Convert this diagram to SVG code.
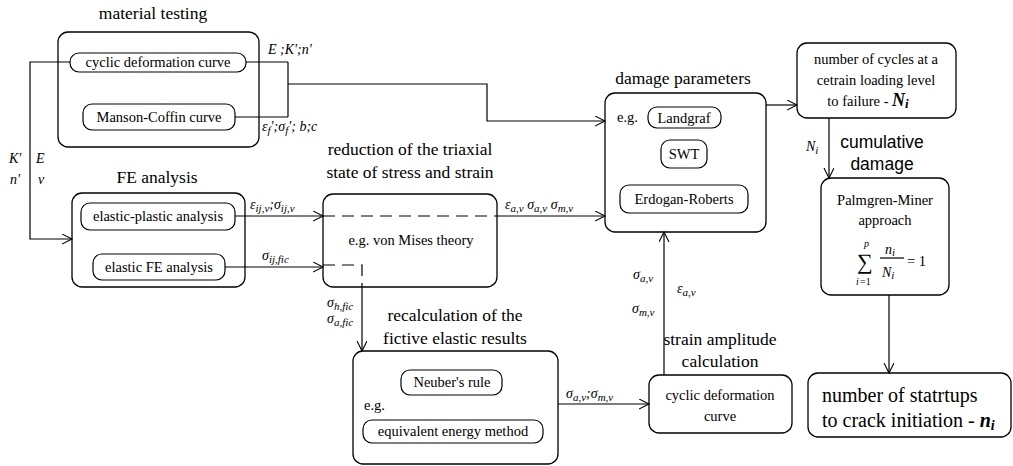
<svg xmlns="http://www.w3.org/2000/svg" width="1013" height="466" viewBox="0 0 1013 466">
<style>
text{font-family:'Liberation Serif','DejaVu Serif','Noto Serif',Tinos,'Times New Roman',Times,serif;fill:#000}
.t{font-size:17.5px}
.p{font-size:14.5px}
.m{font-size:14px;font-style:italic}
.b{font-size:11px}
.s{font-size:10px;font-style:italic}
.sans{font-family:'Liberation Sans',Arial,sans-serif}
.box{fill:#fff;stroke:#000;stroke-width:1.3}
.pill{fill:none;stroke:#000;stroke-width:1.2}
.ln{fill:none;stroke:#000;stroke-width:1.2}
.dash{fill:none;stroke:#000;stroke-width:1.2;stroke-dasharray:12,7}
</style>
<defs>
<marker id="ar" markerWidth="12" markerHeight="12" refX="10" refY="5" orient="auto" markerUnits="userSpaceOnUse">
<path d="M0,0 L10,5 L0,10" fill="none" stroke="#000" stroke-width="1.1"/>
</marker>
</defs>
<rect width="1013" height="466" fill="#fff"/>

<g id="material-testing">
<text class="t" x="153" y="19" text-anchor="middle">material testing</text>
<rect class="box" x="58" y="32" width="201" height="115" rx="10"/>
<rect class="pill" x="70" y="53" width="176" height="19" rx="9"/>
<text class="p" x="158" y="67" text-anchor="middle">cyclic deformation curve</text>
<rect class="pill" x="83" y="104" width="152" height="26" rx="9"/>
<text class="p" x="159" y="122" text-anchor="middle">Manson-Coffin curve</text>
</g>

<g id="fe-analysis">
<text class="t" x="157" y="183" text-anchor="middle">FE analysis</text>
<rect class="box" x="72" y="193" width="173" height="94" rx="10"/>
<rect class="pill" x="81" y="203" width="154" height="27" rx="9"/>
<text class="p" x="158" y="221" text-anchor="middle">elastic-plastic analysis</text>
<rect class="pill" x="93" y="254" width="132" height="26" rx="9"/>
<text class="p" x="159" y="272" text-anchor="middle">elastic FE analysis</text>
</g>

<g id="reduction">
<text class="t" x="410" y="155" text-anchor="middle">reduction of the triaxial</text>
<text class="t" x="410" y="178" text-anchor="middle">state of stress and strain</text>
<rect class="box" x="323" y="194" width="174" height="93" rx="10"/>
<text class="p" x="411" y="245" text-anchor="middle">e.g. von Mises theory</text>
</g>

<g id="damage-parameters">
<text class="t" x="683" y="84" text-anchor="middle">damage parameters</text>
<rect class="box" x="605" y="93" width="161" height="139" rx="10"/>
<text class="p" x="617" y="122">e.g.</text>
<rect class="pill" x="648" y="107" width="73" height="21" rx="9"/>
<text class="p" x="684" y="123" text-anchor="middle">Landgraf</text>
<rect class="pill" x="661" y="140" width="46" height="28" rx="9"/>
<text class="p" x="684" y="159" text-anchor="middle">SWT</text>
<rect class="pill" x="620" y="185" width="128" height="28" rx="9"/>
<text class="p" x="684" y="204" text-anchor="middle">Erdogan-Roberts</text>
</g>

<g id="cycles-to-failure">
<rect class="box" x="797" y="43" width="159" height="75" rx="10"/>
<text class="p" x="876" y="64" text-anchor="middle">number of cycles at a</text>
<text class="p" x="876" y="85" text-anchor="middle">cetrain loading level</text>
<text class="p" x="868" y="106" text-anchor="middle">to failure - <tspan font-size="18" font-weight="bold" font-style="italic">N<tspan font-size="13" dy="2">i</tspan></tspan></text>
</g>

<g id="cumulative-damage">
<text class="t sans" x="882" y="148" text-anchor="middle">cumulative</text>
<text class="t sans" x="882" y="170" text-anchor="middle">damage</text>
<rect class="box" x="821" y="178" width="128" height="117" rx="10"/>
<text class="p" x="885" y="205" text-anchor="middle">Palmgren-Miner</text>
<text class="p" x="885" y="225" text-anchor="middle">approach</text>
<text x="857" y="269" font-size="22">∑</text>
<text class="s" x="864" y="247">p</text>
<text class="s" x="856" y="285">i</text>
<text x="860" y="285" font-size="10">=1</text>
<text class="m" x="885" y="254">n<tspan class="b" dy="2">i</tspan></text>
<line class="ln" x1="880" y1="258" x2="904" y2="258" stroke-width="1"/>
<text class="m" x="882" y="277">N<tspan class="b" dy="2">i</tspan></text>
<text class="p" x="907" y="266">= 1</text>
</g>

<g id="crack-initiation">
<rect class="box" x="808" y="373" width="203" height="64" rx="10" stroke-width="2"/>
<text x="822" y="402" font-size="20">number of statrtups</text>
<text x="822" y="427" font-size="20">to crack initiation - <tspan font-weight="bold" font-style="italic">n<tspan font-size="14" dy="3">i</tspan></tspan></text>
</g>

<g id="recalculation">
<text class="t" x="455" y="321" text-anchor="middle">recalculation of the</text>
<text class="t" x="455" y="344" text-anchor="middle">fictive elastic results</text>
<rect class="box" x="353" y="351" width="205" height="113" rx="10"/>
<rect class="pill" x="401" y="370" width="101" height="25" rx="9"/>
<text class="p" x="452" y="387" text-anchor="middle">Neuber's rule</text>
<text class="p" x="364" y="410">e.g.</text>
<rect class="pill" x="363" y="420" width="180" height="23" rx="9"/>
<text class="p" x="453" y="436" text-anchor="middle">equivalent energy method</text>
</g>

<g id="strain-amplitude">
<text class="t" x="720" y="345" text-anchor="middle">strain amplitude</text>
<text class="t" x="720" y="367" text-anchor="middle">calculation</text>
<rect class="box" x="649" y="375" width="143" height="58" rx="10"/>
<text class="p" x="720" y="400" text-anchor="middle">cyclic deformation</text>
<text class="p" x="720" y="421" text-anchor="middle">curve</text>
</g>

<g id="connectors">
<polyline class="ln" points="70,62 30,62 30,239 72,239" marker-end="url(#ar)"/>
<line class="ln" x1="246" y1="62" x2="288" y2="62"/>
<line class="ln" x1="235" y1="117" x2="288" y2="117"/>
<line class="ln" x1="288" y1="62" x2="288" y2="117"/>
<polyline class="ln" points="288,84 487,84 487,121 605,121" marker-end="url(#ar)"/>
<line class="ln" x1="235" y1="216" x2="323" y2="216" marker-end="url(#ar)"/>
<line class="ln" x1="225" y1="267" x2="323" y2="267" marker-end="url(#ar)"/>
<line class="dash" x1="323" y1="216" x2="497" y2="216"/>
<line class="ln" x1="497" y1="216" x2="605" y2="216" marker-end="url(#ar)"/>
<polyline class="dash" points="323,265 362,265 362,287" stroke-dasharray="10,7"/>
<line class="ln" x1="362" y1="287" x2="362" y2="351" marker-end="url(#ar)"/>
<line class="ln" x1="766" y1="105" x2="797" y2="105" marker-end="url(#ar)"/>
<line class="ln" x1="829" y1="118" x2="829" y2="178" marker-end="url(#ar)"/>
<line class="ln" x1="889" y1="295" x2="889" y2="373" marker-end="url(#ar)"/>
<line class="ln" x1="558" y1="404" x2="649" y2="404" marker-end="url(#ar)"/>
<line class="ln" x1="664" y1="375" x2="664" y2="232" marker-end="url(#ar)"/>

<text class="m" x="268" y="54">E ;K';n'</text>
<text class="m" x="262" y="131">ε<tspan class="b" dy="3">f</tspan><tspan dy="-3">';σ</tspan><tspan class="b" dy="3">f</tspan><tspan dy="-3">'; b;c</tspan></text>
<text class="m" x="9" y="163">K'</text>
<text class="m" x="36" y="163">E</text>
<text class="m" x="10" y="184">n'</text>
<text class="m" x="38" y="184">ν</text>
<text class="m" x="250" y="209">ε<tspan class="b" dy="3">ij,v</tspan><tspan dy="-3">;σ</tspan><tspan class="b" dy="3">ij,v</tspan></text>
<text class="m" x="262" y="260">σ<tspan class="b" dy="3">ij,fic</tspan></text>
<text class="m" x="505" y="209">ε<tspan class="b" dy="3">a,v</tspan><tspan dy="-3">  σ</tspan><tspan class="b" dy="3">a,v</tspan><tspan dy="-3">  σ</tspan><tspan class="b" dy="3">m,v</tspan></text>
<text class="m" x="327" y="307">σ<tspan class="b" dy="3">h,fic</tspan></text>
<text class="m" x="327" y="323">σ<tspan class="b" dy="3">a,fic</tspan></text>
<text class="m" x="566" y="398">σ<tspan class="b" dy="3">a,v</tspan><tspan dy="-3">;σ</tspan><tspan class="b" dy="3">m,v</tspan></text>
<text class="m" x="633" y="279">σ<tspan class="b" dy="3">a,v</tspan></text>
<text class="m" x="632" y="313">σ<tspan class="b" dy="3">m,v</tspan></text>
<text class="m" x="677" y="293">ε<tspan class="b" dy="3">a,v</tspan></text>
<text class="m" x="806" y="151">N<tspan class="b" dy="3">i</tspan></text>
</g>
</svg>
